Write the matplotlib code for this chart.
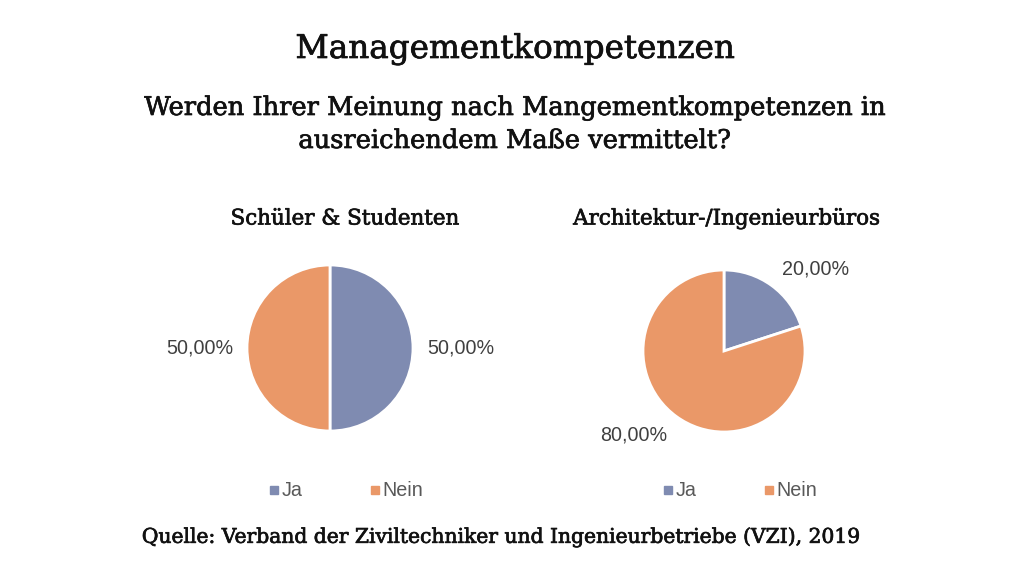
import numpy as np
import matplotlib.pyplot as plt
import matplotlib.patheffects as pe
from matplotlib.lines import Line2D

# Daten
kategorien = ['Ja', 'Nein']
schueler_werte = [50.0, 50.0]
bueros_werte = [20.0, 80.0]
farben = ['#7F8BB1', '#EA9868']

titel = 'Managementkompetenzen'
frage = 'Werden Ihrer Meinung nach Mangementkompetenzen in\nausreichendem Maße vermittelt?'
quelle = 'Quelle: Verband der Ziviltechniker und Ingenieurbetriebe (VZI), 2019'

W, H = 1030, 570
fig = plt.figure(figsize=(W / 100, H / 100), dpi=100)
fig.patch.set_facecolor('white')

serif = 'DejaVu Serif'
sans = 'Liberation Sans'
dick = [pe.withStroke(linewidth=0.5, foreground='#111111')]


def fx(px):
    return px / W


def fy(py):
    return 1 - py / H


fig.text(fx(515), fy(49), titel, ha='center', va='center', family=serif,
         fontsize=23.5, color='#111111', path_effects=dick)
fig.text(fx(515), fy(124), frage, ha='center', va='center', family=serif,
         fontsize=18.5, color='#111111', linespacing=1.4, path_effects=dick)
fig.text(fx(501), fy(537), quelle, ha='center', va='center', family=serif,
         fontsize=14.6, color='#111111', path_effects=dick)


def fmt(v):
    return f'{v:.2f}'.replace('.', ',') + '%'


def torte(cx, cy, r, werte, name, name_x, label_winkel, label_abst, leg_x):
    ax = fig.add_axes([fx(cx - r), fy(cy + r), 2 * r / W, 2 * r / H])
    wedges, _ = ax.pie(werte, colors=farben, startangle=90, counterclock=False,
                       radius=1, wedgeprops=dict(edgecolor='white', linewidth=2))
    ax.set_xlim(-1, 1)
    ax.set_ylim(-1, 1)
    ax.set_aspect('equal')
    ax.axis('off')
    for w, v, a in zip(wedges, werte, label_winkel):
        if a is None:
            a = (w.theta1 + w.theta2) / 2
        ax.text(label_abst * np.cos(np.radians(a)), label_abst * np.sin(np.radians(a)),
                fmt(v), ha='center', va='center', family=sans, fontsize=14.2,
                color='#404040', clip_on=False)
    fig.text(fx(name_x), fy(219), name, ha='center', va='center', family=serif,
             fontsize=15.4, color='#111111', path_effects=dick)
    handles = [Line2D([], [], marker='s', linestyle='', markersize=5.5,
                      markerfacecolor=c, markeredgecolor=c) for c in farben]
    fig.legend(handles, kategorien, loc='center', ncol=2, frameon=False,
               bbox_to_anchor=(fx(leg_x), fy(491)), prop=dict(family=sans, size=14.2),
               labelcolor='#595959', handletextpad=0.05, columnspacing=3.3,
               handlelength=0.7)


torte(330, 348, 83, schueler_werte, 'Schüler & Studenten', 345,
      [None, None], 1.57, 345)
torte(724, 351, 81, bueros_werte, 'Architektur-/Ingenieurbüros', 727,
      [42, -137], 1.52, 739)

fig.savefig('out.png', dpi=100, facecolor='white')
